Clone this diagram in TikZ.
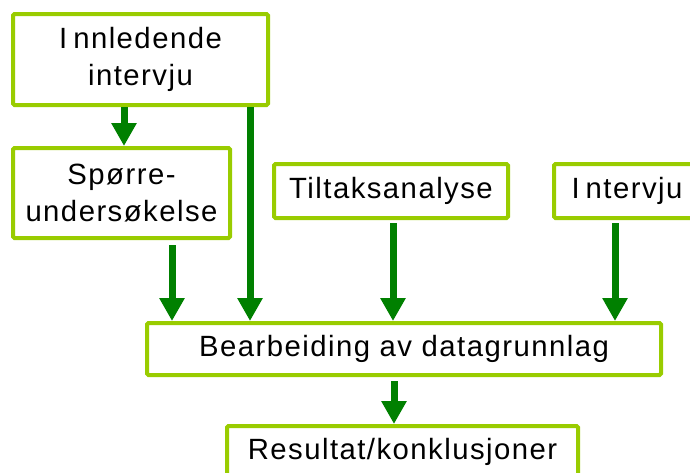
\documentclass[tikz,border=0pt]{standalone}
\usepackage{fontspec}
\setmainfont{Liberation Sans}[LetterSpace=5.0]
\usetikzlibrary{arrows.meta}
\definecolor{boxline}{HTML}{99CC00}
\definecolor{arrgreen}{HTML}{008000}
\tikzset{
  box/.style={draw=boxline, line width=4pt, rounded corners=1.5pt, fill=white,
    inner sep=0pt, align=center, font=\fontsize{29.3}{36.5}\selectfont},
  arr/.style={draw=arrgreen, line width=7pt,
    -{Triangle[width=24pt,length=23pt]}, arrgreen}
}
\begin{document}
\begin{tikzpicture}[x=1pt,y=-1pt]
\useasboundingbox (0,0) rectangle (690,472);
\node[box, minimum width=255pt, minimum height=91pt] (inn) at (140.5,59.5)
  {I\kern6pt nnledende\\intervju};
\node[box, minimum width=217pt, minimum height=90pt] (sp) at (121.5,193)
  {Spørre-\\undersøkelse};
\node[box, minimum width=234pt, minimum height=54pt] (tilt) at (391,191)
  {Tiltaksanalyse};
\node[box, minimum width=146pt, minimum height=54pt, anchor=west] (intv) at (552,191)
  {I\kern6pt ntervju};
\node[box, minimum width=514pt, minimum height=52pt] (bear) at (404,349)
  {Bearbeiding av datagrunnlag};
\node[box, minimum width=351pt, minimum height=52pt] (res) at (402.5,452)
  {Resultat/konklusjoner};
\draw[arr] (inn.south -| 124,0) -- (sp.north -| 124,0);
\draw[arr, shorten <=5pt] (sp.south -| 172,0) -- (bear.north -| 172,0);
\draw[arr] (inn.south -| 250,0) -- (bear.north -| 250,0);
\draw[arr, shorten <=3pt] (tilt.south -| 393,0) -- (bear.north -| 393,0);
\draw[arr, shorten <=3pt] (intv.south -| 615,0) -- (bear.north -| 615,0);
\draw[arr, shorten <=4pt] (bear.south -| 394,0) -- (res.north -| 394,0);
\end{tikzpicture}
\end{document}
